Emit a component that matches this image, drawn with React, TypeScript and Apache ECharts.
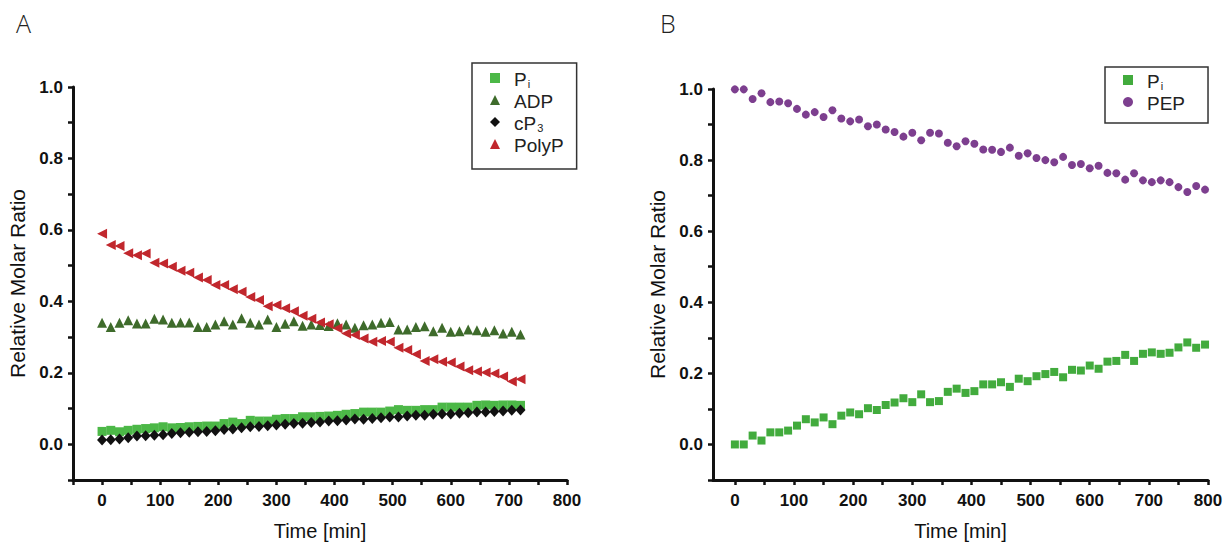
import React, { useEffect, useRef } from "react";
import * as echarts from "echarts";

const timeA = [0, 15, 30, 45, 60, 75, 90, 105, 120, 135, 150, 165, 180, 195, 210, 225, 240, 255, 270, 285, 300, 315, 330, 345, 360, 375, 390, 405, 420, 435, 450, 465, 480, 495, 510, 525, 540, 555, 570, 585, 600, 615, 630, 645, 660, 675, 690, 705, 720];
const piA = [0.036, 0.039, 0.035, 0.039, 0.042, 0.044, 0.046, 0.049, 0.046, 0.047, 0.049, 0.05, 0.051, 0.051, 0.058, 0.062, 0.058, 0.067, 0.065, 0.065, 0.07, 0.072, 0.072, 0.077, 0.077, 0.078, 0.079, 0.081, 0.084, 0.086, 0.09, 0.09, 0.09, 0.093, 0.097, 0.095, 0.095, 0.097, 0.097, 0.104, 0.104, 0.104, 0.104, 0.109, 0.11, 0.109, 0.11, 0.11, 0.109];
const adpA = [0.34, 0.328, 0.34, 0.347, 0.338, 0.338, 0.351, 0.349, 0.34, 0.341, 0.341, 0.328, 0.328, 0.335, 0.344, 0.335, 0.353, 0.34, 0.335, 0.349, 0.328, 0.337, 0.344, 0.332, 0.335, 0.334, 0.331, 0.339, 0.335, 0.326, 0.333, 0.335, 0.34, 0.342, 0.321, 0.321, 0.328, 0.33, 0.316, 0.326, 0.315, 0.316, 0.321, 0.319, 0.315, 0.319, 0.31, 0.315, 0.307];
const cp3A = [0.012, 0.013, 0.015, 0.018, 0.023, 0.024, 0.025, 0.027, 0.03, 0.032, 0.034, 0.035, 0.036, 0.038, 0.041, 0.043, 0.046, 0.049, 0.05, 0.052, 0.054, 0.056, 0.058, 0.059, 0.061, 0.062, 0.065, 0.066, 0.068, 0.071, 0.07, 0.072, 0.074, 0.076, 0.076, 0.079, 0.081, 0.081, 0.084, 0.085, 0.085, 0.087, 0.088, 0.09, 0.09, 0.092, 0.093, 0.095, 0.096];
const polyPA = [0.589, 0.558, 0.555, 0.535, 0.529, 0.534, 0.508, 0.506, 0.497, 0.486, 0.48, 0.467, 0.46, 0.446, 0.446, 0.434, 0.427, 0.412, 0.404, 0.386, 0.39, 0.381, 0.372, 0.36, 0.351, 0.341, 0.336, 0.325, 0.31, 0.306, 0.296, 0.287, 0.289, 0.287, 0.27, 0.264, 0.252, 0.233, 0.238, 0.231, 0.229, 0.218, 0.207, 0.204, 0.201, 0.198, 0.19, 0.176, 0.182];

const timeB = [0, 15, 30, 45, 60, 75, 90, 105, 120, 135, 150, 165, 180, 195, 210, 225, 240, 255, 270, 285, 300, 315, 330, 345, 360, 375, 390, 405, 420, 435, 450, 465, 480, 495, 510, 525, 540, 555, 570, 585, 600, 615, 630, 645, 660, 675, 690, 705, 720, 735, 750, 765, 780, 795];
const piB = [0.0, 0.0, 0.025, 0.011, 0.034, 0.034, 0.039, 0.053, 0.071, 0.062, 0.076, 0.057, 0.081, 0.09, 0.085, 0.102, 0.097, 0.111, 0.118, 0.13, 0.119, 0.141, 0.119, 0.122, 0.148, 0.157, 0.145, 0.15, 0.169, 0.169, 0.175, 0.162, 0.185, 0.178, 0.192, 0.198, 0.204, 0.189, 0.21, 0.208, 0.222, 0.213, 0.233, 0.235, 0.252, 0.235, 0.255, 0.259, 0.255, 0.258, 0.273, 0.287, 0.272, 0.281];
const pepB = [0.999, 0.999, 0.972, 0.988, 0.963, 0.965, 0.96, 0.944, 0.928, 0.935, 0.921, 0.94, 0.917, 0.909, 0.914, 0.895, 0.9, 0.886, 0.879, 0.866, 0.877, 0.856, 0.877, 0.875, 0.849, 0.839, 0.853, 0.846, 0.83, 0.829, 0.823, 0.835, 0.812, 0.819, 0.806, 0.8, 0.794, 0.809, 0.786, 0.789, 0.777, 0.784, 0.764, 0.763, 0.745, 0.763, 0.743, 0.738, 0.743, 0.738, 0.724, 0.71, 0.727, 0.717];

const xTickValues = [0, 50, 100, 150, 200, 250, 300, 350, 400, 450, 500, 550, 600, 650, 700, 750, 800];
const xLabelValues = [0, 100, 200, 300, 400, 500, 600, 700, 800];

const FONT = "Liberation Sans, Arial, sans-serif";
const INK = "#111";

const zip = (xs: number[], ys: number[]) => xs.map((x, i) => [x, ys[i]]);

function yAxis(gridIndex: number): any {
  return {
    type: "value",
    gridIndex,
    min: -0.1,
    max: 1.0,
    interval: 0.1,
    name: "Relative Molar Ratio",
    nameLocation: "middle",
    nameGap: 45,
    nameTextStyle: { fontFamily: FONT, fontSize: 21, color: INK },
    axisLine: { show: true, onZero: false, lineStyle: { color: INK, width: 3 } },
    axisTick: { show: true, length: 5, lineStyle: { color: INK, width: 2.5 } },
    axisLabel: {
      formatter: (v: number) => {
        const k = Math.round(v * 10);
        return k >= 0 && k % 2 === 0 ? v.toFixed(1) : "";
      },
      fontFamily: FONT,
      fontWeight: "bold",
      fontSize: 17,
      color: INK,
      margin: 10,
    },
    splitLine: { show: false },
  };
}

const xLabelStyle = {
  fontFamily: FONT,
  fontWeight: "bold",
  fontSize: 17,
  color: INK,
  margin: 12,
};

function xAxisA(): any {
  return {
    type: "value",
    gridIndex: 0,
    min: -50,
    max: 800,
    interval: 50,
    name: "Time [min]",
    nameLocation: "middle",
    nameGap: 41,
    nameTextStyle: { fontFamily: FONT, fontSize: 20, color: INK },
    axisLine: { show: true, onZero: false, lineStyle: { color: INK, width: 3 } },
    axisTick: { show: true, length: 5, lineStyle: { color: INK, width: 2.5 } },
    axisLabel: {
      ...xLabelStyle,
      formatter: (v: number) => (v >= 0 && Math.round(v) % 100 === 0 ? String(v) : ""),
    },
    splitLine: { show: false },
  };
}

function xAxisB(): any {
  return {
    type: "value",
    gridIndex: 1,
    min: -37,
    max: 800,
    name: "Time [min]",
    nameLocation: "middle",
    nameGap: 41,
    nameTextStyle: { fontFamily: FONT, fontSize: 20, color: INK },
    axisLine: { show: true, onZero: false, lineStyle: { color: INK, width: 3 } },
    axisTick: { show: true, length: 5, customValues: xTickValues, lineStyle: { color: INK, width: 2.5 } },
    axisLabel: { ...xLabelStyle, customValues: xLabelValues },
    splitLine: { show: false },
  };
}

const legendRich = {
  n: { fontFamily: FONT, fontSize: 19, color: "#222", lineHeight: 22, verticalAlign: "bottom" },
  s: { fontFamily: FONT, fontSize: 11, color: "#222", lineHeight: 22, verticalAlign: "bottom", padding: [0, 0, 0, 1] },
};

const legendLabel = (name: string) => {
  if (name === "Pi_A" || name === "Pi_B") return "{n|P}{s|i}";
  if (name === "CP3") return "{n|cP}{s|3}";
  return "{n|" + name + "}";
};

export default function App() {
  const ref = useRef<HTMLDivElement>(null);
  useEffect(() => {
    if (!ref.current) return;
    const chart = echarts.init(ref.current, undefined, { renderer: "svg" });
    chart.setOption({
      animation: false,
      backgroundColor: "#fff",
      title: [
        { text: "A", left: 11, top: 5, textStyle: { fontFamily: "Open Sans", fontWeight: 300, fontSize: 25, color: "#222" } },
        { text: "B", left: 655, top: 5, textStyle: { fontFamily: "Open Sans", fontWeight: 300, fontSize: 25, color: "#222" } },
      ],
      grid: [
        { left: 73, top: 87, width: 494, height: 397 },
        { left: 713, top: 89, width: 495, height: 396 },
      ],
      xAxis: [xAxisA(), xAxisB()],
      yAxis: [yAxis(0), yAxis(1)],
      legend: [
        {
          data: ["Pi_A", "ADP", "CP3", "PolyP"],
          orient: "vertical",
          left: 472,
          top: 63,
          padding: [7, 13, 14, 18],
          itemGap: 3,
          itemWidth: 10,
          itemHeight: 10,
          borderColor: "#333",
          borderWidth: 1.5,
          borderRadius: 0,
          formatter: legendLabel,
          textStyle: { rich: legendRich, padding: [0, 0, 0, 9] },
        },
        {
          data: ["Pi_B", "PEP"],
          orient: "vertical",
          left: 1105,
          top: 67,
          padding: [5, 23, 10, 18],
          itemGap: 3,
          itemWidth: 10,
          itemHeight: 10,
          borderColor: "#333",
          borderWidth: 1.5,
          borderRadius: 0,
          formatter: legendLabel,
          textStyle: { rich: legendRich, padding: [0, 0, 0, 9] },
        },
      ],
      series: [
        { name: "Pi_A", type: "scatter", xAxisIndex: 0, yAxisIndex: 0, symbol: "rect", symbolSize: 9, itemStyle: { color: "#4cb847", opacity: 1 }, data: zip(timeA, piA) },
        { name: "ADP", type: "scatter", xAxisIndex: 0, yAxisIndex: 0, symbol: "triangle", symbolSize: 10, itemStyle: { color: "#3e6b2b", opacity: 1 }, data: zip(timeA, adpA) },
        { name: "CP3", type: "scatter", xAxisIndex: 0, yAxisIndex: 0, symbol: "diamond", symbolSize: [10, 11], itemStyle: { color: "#111", opacity: 1 }, data: zip(timeA, cp3A) },
        { name: "PolyP", type: "scatter", xAxisIndex: 0, yAxisIndex: 0, symbol: "triangle", symbolRotate: 90, symbolSize: 10, itemStyle: { color: "#c1272d", opacity: 1 }, data: zip(timeA, polyPA) },
        { name: "Pi_B", type: "scatter", xAxisIndex: 1, yAxisIndex: 1, symbol: "rect", symbolSize: 8, itemStyle: { color: "#42ab3d", opacity: 1 }, data: zip(timeB, piB) },
        { name: "PEP", type: "scatter", xAxisIndex: 1, yAxisIndex: 1, symbol: "circle", symbolSize: 8, itemStyle: { color: "#7d3f8f", opacity: 1 }, data: zip(timeB, pepB) },
      ],
    });
    return () => chart.dispose();
  }, []);
  return <div ref={ref} style={{ position: "absolute", left: 0, top: 0, width: 1226, height: 546 }} />;
}
